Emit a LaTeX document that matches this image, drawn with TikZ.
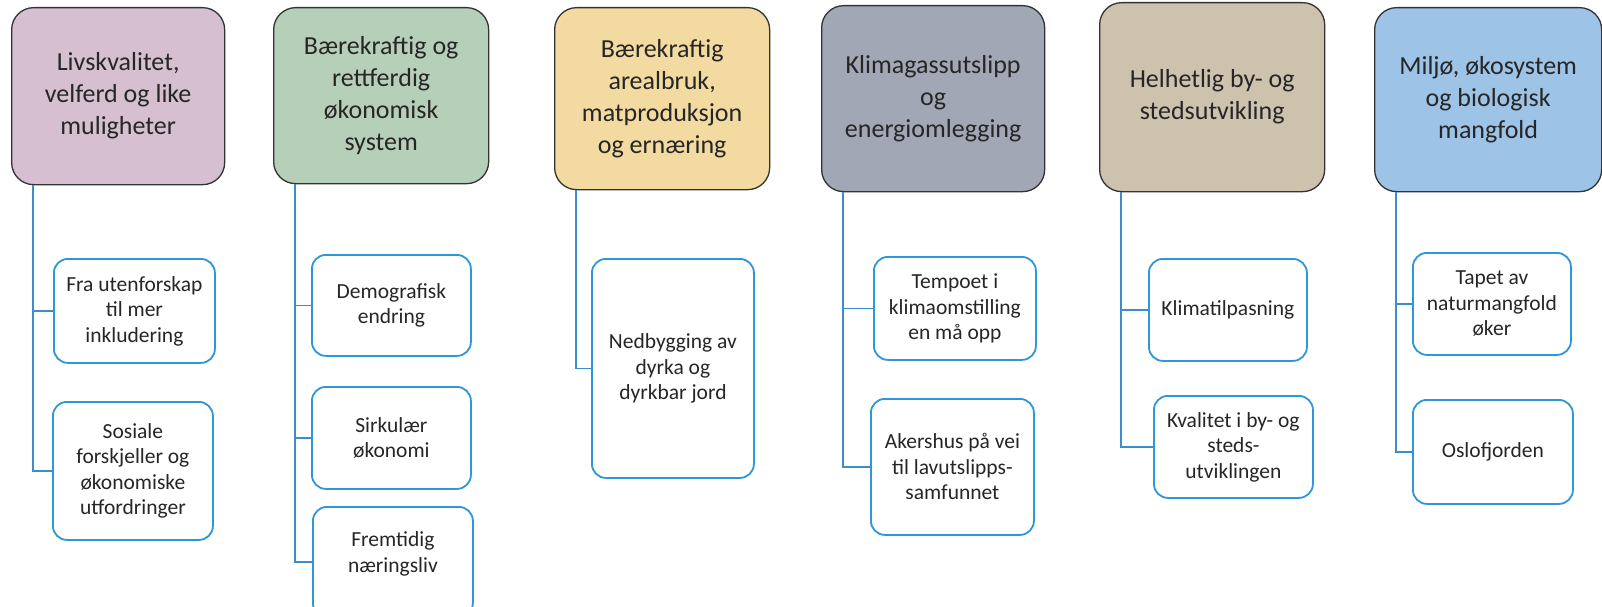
\documentclass[tikz,border=0pt]{standalone}
\usepackage{fontspec}
\setmainfont{Carlito}
\usetikzlibrary{positioning}
\definecolor{headA}{HTML}{D5BFD0}
\definecolor{headB}{HTML}{B6CFB9}
\definecolor{headC}{HTML}{F2DAA0}
\definecolor{headD}{HTML}{A2A7B6}
\definecolor{headE}{HTML}{CDC2AE}
\definecolor{headF}{HTML}{9DC3E6}
\definecolor{subline}{HTML}{2F96D8}
\definecolor{linkline}{HTML}{3C8DC9}
\definecolor{ink}{HTML}{262626}

\begin{document}
\begin{tikzpicture}[
    x=1pt, y=-1pt,
    every node/.style={anchor=north west, align=center, inner sep=0pt, text=ink},
    size/.style 2 args={minimum width=#1pt, minimum height=#2pt},
    head/.style={
      draw=black!80, line width=1.3pt, rounded corners=22pt,
      font=\fontsize{26}{32}\selectfont,
    },
    sub/.style={
      draw=subline, line width=1.8pt, rounded corners=14pt, fill=white,
      font=\fontsize{21.5}{25.5}\selectfont,
    },
    link/.style={draw=linkline, line width=1.5pt},
  ]
  \clip (0,0) rectangle (1602,607);
  \fill[white] (0,0) rectangle (1602,607);

  % overskrifter
  \node[head, fill=headA, size={213}{177}] (h1) at (11,7) {Livskvalitet,\\velferd og like\\muligheter};
  \node[head, fill=headB, size={215}{176}] (h2) at (273,7) {Bærekraftig og\\rettferdig\\økonomisk\\system};
  \node[head, fill=headC, size={215}{182}] (h3) at (554,7) {Bærekraftig\\arealbruk,\\matproduksjon\\og ernæring};
  \node[head, fill=headD, size={223}{186}] (h4) at (821,5) {Klimagassutslipp\\og\\energiomlegging};
  \node[head, fill=headE, size={225}{189}] (h5) at (1099,2) {Helhetlig by- og\\stedsutvikling};
  \node[head, fill=headF, size={227}{184}] (h6) at (1374,7) {Miljø, økosystem\\og biologisk\\mangfold};

  % underpunkter
  \node[sub, size={161}{104}] (s1a) at (53,258) {Fra utenforskap\\til mer\\inkludering};
  \node[sub, size={160}{138}] (s1b) at (52,401) {Sosiale\\forskjeller og\\økonomiske\\utfordringer};
  \node[sub, size={159}{101}] (s2a) at (311,254) {Demografisk\\endring};
  \node[sub, size={159}{102}] (s2b) at (311,386) {Sirkulær\\økonomi};
  \node[sub, size={160}{110}] (s2c) at (312,506) {Fremtidig\\næringsliv\\[-6pt]};
  \node[sub, size={162}{219}] (s3a) at (591,258) {Nedbygging av\\dyrka og\\dyrkbar jord};
  \node[sub, size={162}{103}] (s4a) at (873,256) {Tempoet i\\klimaomstilling\\en må opp};
  \node[sub, size={163}{136}] (s4b) at (870,398) {Akershus på vei\\til lavutslipps-\\samfunnet};
  \node[sub, size={158}{102}] (s5a) at (1148,258) {Klimatilpasning};
  \node[sub, size={159}{102}] (s5b) at (1153,395) {Kvalitet i by- og\\steds-\\utviklingen};
  \node[sub, size={158}{102}] (s6a) at (1412,252) {Tapet av\\naturmangfold\\øker};
  \node[sub, size={160}{104}] (s6b) at (1412,399) {Oslofjorden};

  % koblinger
  \foreach \h/\s in {h1/s1a,h1/s1b,h2/s2a,h2/s2b,h2/s2c,h3/s3a,h4/s4a,h4/s4b,h5/s5a,h5/s5b,h6/s6a,h6/s6b}
    \draw[link] ([xshift=22pt]\h.south west) |- (\s.west);
\end{tikzpicture}
\end{document}
